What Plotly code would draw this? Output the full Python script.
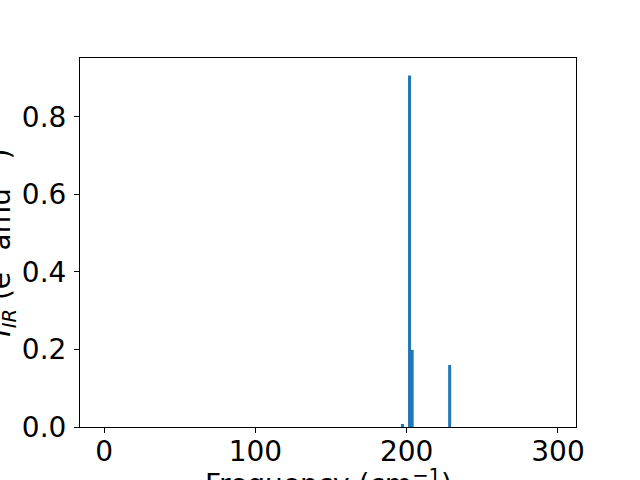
import plotly.graph_objects as go

freqs = [197.2, 201.9, 203.6, 228.4]
intensities = [0.0077, 0.907, 0.199, 0.16]
x_ticks = [0, 100, 200, 300]
y_ticks = [0.0, 0.2, 0.4, 0.6, 0.8]

FONT = "DejaVu Sans"
FS = 28
BLUE = "#1f77b4"

fig = go.Figure()
fig.add_trace(go.Bar(x=freqs, y=intensities, width=2, marker=dict(color=BLUE, line=dict(width=0))))

fig.update_layout(
    width=640, height=480,
    margin=dict(l=80, r=64, t=58, b=53),
    paper_bgcolor="white", plot_bgcolor="white",
    showlegend=False,
    font=dict(family=FONT, size=FS, color="black"),
)
fig.update_xaxes(
    range=[-15.9, 311.9], tickvals=x_ticks, ticktext=[str(v) for v in x_ticks],
    showgrid=False, zeroline=False, showline=True, mirror=True, linecolor="black", linewidth=1,
    ticks="outside", ticklen=5, tickwidth=1, tickcolor="black",
    tickfont=dict(family=FONT, size=FS), ticklabelstandoff=-6,
    automargin=False,
)
fig.update_yaxes(
    range=[0, 0.952], tickvals=y_ticks, ticktext=[f"{v:.1f}" for v in y_ticks],
    showgrid=False, zeroline=False, showline=True, mirror=True, linecolor="black", linewidth=1,
    ticks="outside", ticklen=5, tickwidth=1, tickcolor="black",
    tickfont=dict(family=FONT, size=FS), ticklabelstandoff=2,
    automargin=False,
)
fig.add_annotation(
    text="Frequency (cm<sup>−1</sup>)", xref="paper", yref="paper", x=0.5, y=-0.151,
    xanchor="center", yanchor="middle", showarrow=False, font=dict(family=FONT, size=FS),
)
fig.add_annotation(
    text="<i>I</i><sub><i>IR</i></sub> (e<sup>2</sup> amu<sup>−1</sup>)", xref="paper", yref="paper",
    x=-0.159, y=0.5, xanchor="center", yanchor="middle", textangle=-90, showarrow=False,
    font=dict(family=FONT, size=FS),
)

fig.write_html("out.html", config={"displayModeBar": False},
               post_script="document.body.style.margin='0px';")
